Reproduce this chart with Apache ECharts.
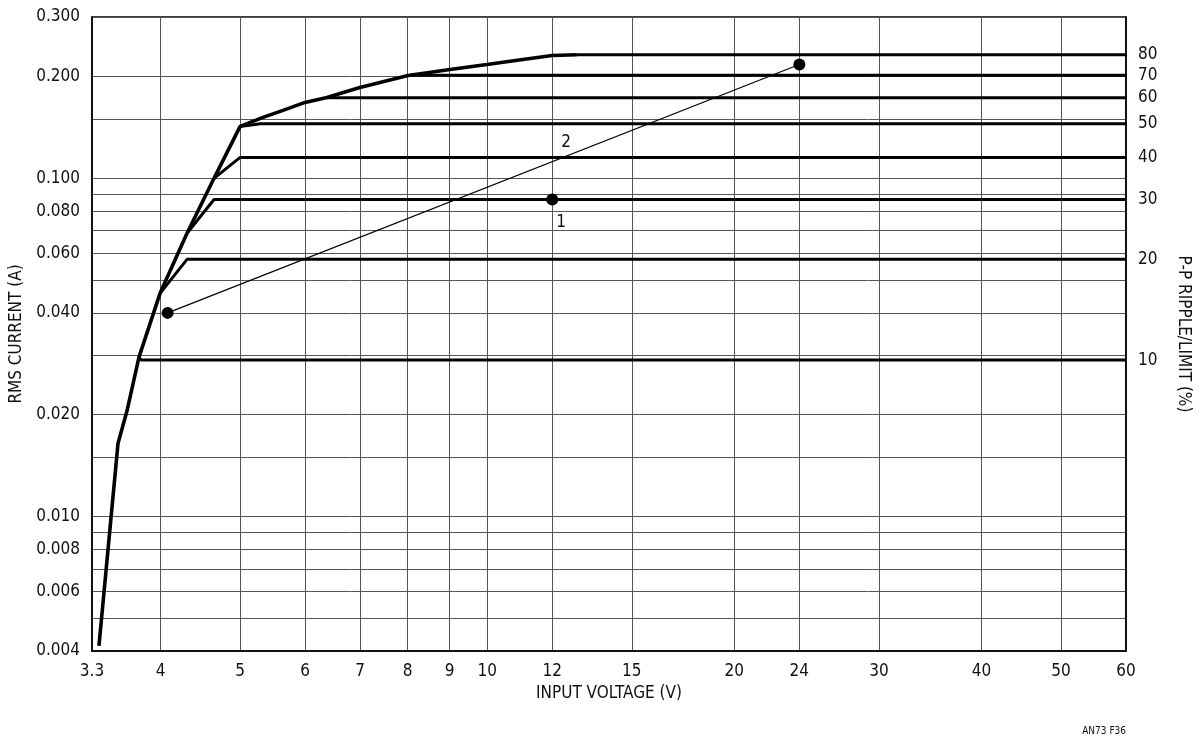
<!DOCTYPE html>
<html><head><meta charset="utf-8">
<script src="https://cdn.jsdelivr.net/npm/echarts@6/dist/echarts.min.js"></script>
<style>html,body{margin:0;padding:0;background:#fff}#c{width:1202px;height:739px}</style>
</head><body><div id="c"></div>
<script>
const FONT = "'Liberation Sans Narrow','DejaVu Sans Condensed','Liberation Sans',Arial,sans-serif";

// Axis ticks
const xTicks = [3.3, 4, 5, 6, 7, 8, 9, 10, 12, 15, 20, 24, 30, 40, 50, 60];
const yLabelValues = [0.004, 0.006, 0.008, 0.010, 0.020, 0.040, 0.060, 0.080, 0.100, 0.200, 0.300];
const yGridValues = [0.004, 0.005, 0.006, 0.007, 0.008, 0.009, 0.010, 0.015, 0.020, 0.030, 0.040, 0.050,
                     0.060, 0.070, 0.080, 0.090, 0.100, 0.150, 0.200, 0.300];

// Envelope curve (input voltage V, RMS current A)
const envelopeV = [3.365, 3.55, 3.64, 3.765, 3.994, 4.308, 4.647, 5.0, 5.331, 5.639, 5.998, 6.378, 6.997, 8.008, 9.009, 9.992, 11.05, 12.0, 12.86];
const envelopeI = [0.00414, 0.01647, 0.0205, 0.0296, 0.0457, 0.0688, 0.100, 0.1424, 0.1514, 0.1588, 0.1677, 0.1735, 0.1857, 0.2015, 0.2099, 0.2172, 0.2247, 0.2308, 0.2319];

// Ripple/limit lines
const rippleLabels = ['10', '20', '30', '40', '50', '60', '70', '80'];
const rippleStartV = [3.765, 3.994, 4.308, 4.647, 5.0, 6.378, 8.1, 12.86];
const rippleStartI = [0.0296, 0.0457, 0.0688, 0.100, 0.1424, 0.1731, 0.2019, 0.2319];
const rippleFlatV  = [3.79, 4.308, 4.647, 5.0, 5.29, 6.378, 8.1, 12.86];
const rippleLevel  = [0.0290, 0.0576, 0.0866, 0.1153, 0.1450, 0.1731, 0.2019, 0.2319];
const xEnd = 60;

// Operating points
const point1 = [12, 0.0866];
const line2V = [4.08, 24];
const line2I = [0.040, 0.217];

const txt = '#111';
const gridColor = '#555';

const series = [];
series.push({
  type: 'line', name: 'envelope', symbol: 'none', z: 4,
  lineStyle: { color: '#000', width: 3.6 },
  data: envelopeV.map((v, i) => [v, envelopeI[i]])
});
rippleLabels.forEach((lab, i) => {
  series.push({
    type: 'line', name: lab + '%', symbol: 'none', z: 4,
    lineStyle: { color: '#000', width: 3 },
    data: [[rippleStartV[i], rippleStartI[i]], [rippleFlatV[i], rippleLevel[i]], [xEnd, rippleLevel[i]]]
  });
});
// value of line 2 at x=12 (straight on log-log)
const f = Math.log(12 / line2V[0]) / Math.log(line2V[1] / line2V[0]);
const line2At12 = Math.exp(Math.log(line2I[0]) + f * Math.log(line2I[1] / line2I[0]));
series.push({
  type: 'line', name: 'line2', symbol: 'circle', symbolSize: 12, showAllSymbol: true, z: 5,
  itemStyle: { color: '#000', opacity: 1 },
  lineStyle: { color: '#000', width: 1.1 },
  data: line2V.map((v, i) => [v, line2I[i]]),
  markPoint: {
    symbol: 'circle', symbolSize: 0,
    label: { show: true, formatter: '2', color: txt, fontFamily: FONT, fontSize: 17, offset: [14, -19] },
    data: [{ coord: [12, line2At12] }]
  }
});
series.push({
  type: 'scatter', name: 'point1', symbolSize: 12, z: 6,
  itemStyle: { color: '#000', opacity: 1 },
  label: { show: true, formatter: '1', position: 'bottom', distance: 5, offset: [9, 4], color: txt, opacity: 1, fontFamily: FONT, fontSize: 17 },
  data: [point1]
});

const chart = echarts.init(document.getElementById('c'));
chart.setOption({
  animation: false,
  backgroundColor: '#fff',
  grid: { left: 92, right: 76, top: 17, bottom: 88, show: true, borderColor: '#000', borderWidth: 1.5, backgroundColor: 'transparent' },
  xAxis: {
    type: 'log', min: 3.3, max: 60, logBase: 10,
    name: 'INPUT VOLTAGE (V)', nameLocation: 'middle', nameGap: 34,
    nameTextStyle: { color: txt, fontFamily: FONT, fontSize: 17 },
    axisLine: { show: true, lineStyle: { color: '#000', width: 1.5 } },
    axisTick: { show: false, customValues: xTicks },
    axisLabel: { customValues: xTicks, color: txt, fontFamily: FONT, fontSize: 17, margin: 12,
      formatter: v => String(+(+v).toFixed(2)) },
    splitLine: { show: true, lineStyle: { color: gridColor, width: 1 } },
    minorSplitLine: { show: false }
  },
  yAxis: [{
    type: 'log', min: 0.004, max: 0.3, logBase: 10, position: 'left',
    name: 'RMS CURRENT (A)', nameLocation: 'middle', nameGap: 60,
    nameTextStyle: { color: txt, fontFamily: FONT, fontSize: 17 },
    axisLine: { show: true, lineStyle: { color: '#000', width: 1.5 } },
    axisTick: { show: false, customValues: yGridValues },
    axisLabel: { customValues: yLabelValues, color: txt, fontFamily: FONT, fontSize: 17, margin: 12,
      formatter: v => (+v).toFixed(3) },
    splitLine: { show: true, lineStyle: { color: gridColor, width: 1 } }
  }, {
    type: 'log', min: 0.004, max: 0.3, logBase: 10, position: 'right',
    name: 'P-P RIPPLE/LIMIT (%)', nameLocation: 'middle', nameGap: 49, nameRotate: -90,
    nameTextStyle: { color: txt, fontFamily: FONT, fontSize: 17 },
    axisLine: { show: true, lineStyle: { color: '#000', width: 1.5 } },
    axisTick: { show: false, customValues: rippleLevel },
    axisLabel: { customValues: rippleLevel, color: txt, fontFamily: FONT, fontSize: 17, margin: 12,
      formatter: v => {
        let best = 0;
        rippleLevel.forEach((r, i) => { if (Math.abs(r - v) < Math.abs(rippleLevel[best] - v)) best = i; });
        return rippleLabels[best];
      } },
    splitLine: { show: false }
  }],
  graphic: [{
    type: 'text', right: 76, bottom: 3,
    style: { text: 'AN73 F36', fill: txt, font: "10px " + FONT }
  }],
  series: series
});
</script></body></html>
